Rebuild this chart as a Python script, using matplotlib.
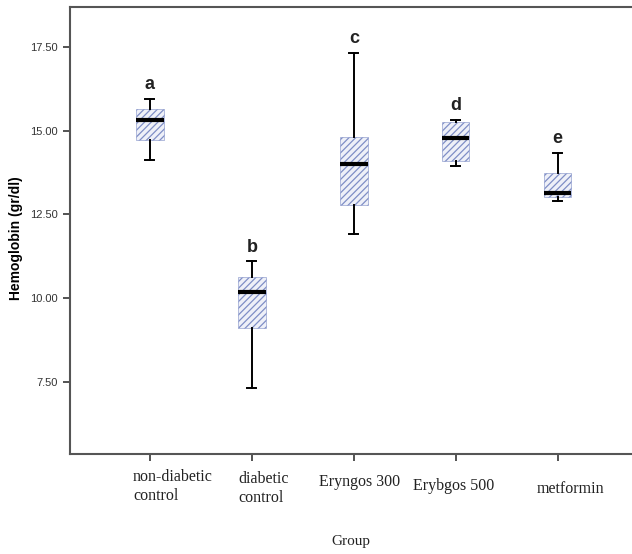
import matplotlib.pyplot as plt
from matplotlib.patches import Rectangle

# data
groups = ['non-diabetic\ncontrol', 'diabetic\ncontrol', 'Eryngos 300', 'Erybgos 500', 'metformin']
whislo = [14.13, 7.31, 11.93, 13.94, 12.90]
q1 = [14.73, 9.10, 12.77, 14.10, 13.01]
med = [15.33, 10.18, 13.99, 14.79, 13.13]
q3 = [15.66, 10.63, 14.82, 15.27, 13.73]
whishi = [15.95, 11.10, 17.32, 15.33, 14.34]
letters = ['a', 'b', 'c', 'd', 'e']
yticks = [7.5, 10.0, 12.5, 15.0, 17.5]

# label placement tweaks (pixels from tick / axis bottom)
lab_dx = [-17, -13, 6, -2, 13]
lab_dy = [-15, -17, -28, -32, -35]
lab_ha = ['left', 'left', 'center', 'center', 'center']
lab_va = ['top', 'top', 'center', 'center', 'center']

plt.rcParams['hatch.linewidth'] = 0.9

fig = plt.figure(figsize=(6.32, 5.54), dpi=100)
ax = fig.add_axes([70 / 632, 100 / 554, 562 / 632, 447 / 554])

hatch_col = '#7f8ec6'
box_w = 0.27
cap_w = 0.09
for i in range(len(groups)):
    x = i + 1
    ax.add_patch(Rectangle((x - box_w / 2, q1[i]), box_w, q3[i] - q1[i],
                           facecolor='#eef0f8', edgecolor=hatch_col, linewidth=0.4,
                           hatch='/////', zorder=2))
    ax.plot([x, x], [q3[i], whishi[i]], color='black', lw=1.4, zorder=3)
    ax.plot([x, x], [q1[i], whislo[i]], color='black', lw=1.4, zorder=3)
    ax.plot([x - cap_w / 2, x + cap_w / 2], [whishi[i]] * 2, color='black', lw=1.4, zorder=3)
    ax.plot([x - cap_w / 2, x + cap_w / 2], [whislo[i]] * 2, color='black', lw=1.4, zorder=3)
    ax.plot([x - box_w / 2, x + box_w / 2], [med[i]] * 2, color='black', lw=3, zorder=4,
            solid_capstyle='butt')
    ax.text(x, whishi[i] + 0.17, letters[i], ha='center', va='bottom',
            fontsize=13, fontweight='bold', family='Liberation Sans', color='#222222')

ax.set_xlim(0.216, 5.73)
ax.set_ylim(5.35, 18.69)
ax.set_yticks(yticks)
ax.set_yticklabels([f'{v:.2f}' for v in yticks], fontsize=8, family='Liberation Sans', color='#333333')
ax.set_xticks(range(1, len(groups) + 1))
ax.set_xticklabels([])
ax.tick_params(axis='both', direction='out', length=5, width=1.3, color='#444444')

for i, g in enumerate(groups):
    ax.annotate(g, xy=(i + 1, 0), xycoords=('data', 'axes fraction'),
                xytext=(lab_dx[i], lab_dy[i]), textcoords='offset pixels',
                ha=lab_ha[i], va=lab_va[i], multialignment='left', linespacing=1.25,
                fontsize=11.5, family='Liberation Serif', color='#222222')

fig.text(16 / 632, 1 - 238 / 554, 'Hemoglobin (gr/dl)', rotation=90, ha='center', va='center',
         fontsize=10, fontweight='bold', family='Liberation Sans')
fig.text(351 / 632, 1 - 542 / 554, 'Group', ha='center', va='center',
         fontsize=11, family='Liberation Serif', color='#222222')

for side in ['left', 'bottom', 'top']:
    ax.spines[side].set_color('#555555')
    ax.spines[side].set_linewidth(1.5)
ax.spines['right'].set_visible(False)

fig.savefig('out.png', dpi=100)
